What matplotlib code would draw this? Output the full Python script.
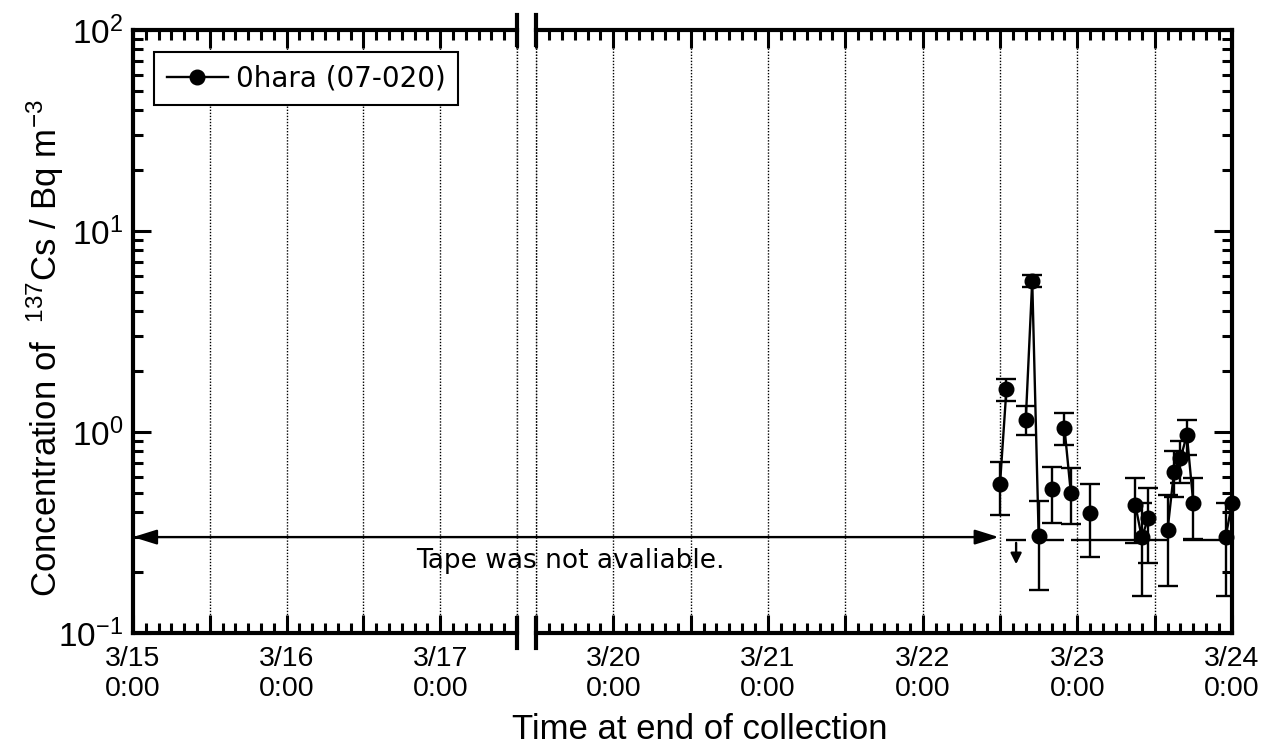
import numpy as np
import matplotlib.pyplot as plt
import matplotlib.dates as mdates
from matplotlib.lines import Line2D
from matplotlib.patches import ConnectionPatch, ArrowStyle
from matplotlib.ticker import FuncFormatter, NullFormatter, LogLocator

plt.rcParams['font.family'] = ['Liberation Sans', 'DejaVu Sans']
plt.rcParams['mathtext.default'] = 'regular'

# hourly samples, hours after 2011-03-22 0:00
sample_hours = [12, 13, 16, 17, 18, 20, 22, 23, 26, 33, 34, 35, 38, 39, 40, 41, 42, 47, 48]
cs137 = [0.55, 1.64, 1.15, 5.66, 0.304, 0.519, 1.05, 0.495, 0.397, 0.433,
         0.299, 0.372, 0.325, 0.635, 0.739, 0.966, 0.442, 0.299, 0.442]
cs137_low = [0.386, 1.43, 0.97, 5.28, 0.164, 0.354, 0.86, 0.347, 0.24, 0.279,
             0.153, 0.224, 0.171, 0.477, 0.556, 0.77, 0.292, 0.153, np.nan]
cs137_high = [0.71, 1.84, 1.35, 6.04, 0.455, 0.672, 1.25, 0.66, 0.551, 0.589,
              0.442, 0.528, 0.486, 0.805, 0.90, 1.15, 0.589, 0.442, np.nan]

# periods below detection limit (hours after 3/22 0:00)
dl_start = [13.0, 18.5, 23.0, 40.4]
dl_end = [16.0, 22.0, 38.0, 47.0]
dl_level = 0.29
dl_arrow_hour = 14.5
dl_arrow_tip = 0.213

tape_level = 0.30
station = '0hara (07-020)'

base = mdates.date2num(np.datetime64('2011-03-22T00:00'))
def at(h):
    return base + np.asarray(h, dtype=float) / 24.0

def day(s):
    return mdates.date2num(np.datetime64(s))

times = at(sample_hours)
conc = np.array(cs137)
lo = np.array(cs137_low)
hi = np.array(cs137_high)

# connect only consecutive hours
full_hours = np.arange(sample_hours[0], sample_hours[-1] + 1)
full_vals = np.full(full_hours.shape, np.nan)
full_vals[np.searchsorted(full_hours, sample_hours)] = conc

fig = plt.figure(figsize=(12.75, 7.47), dpi=100)
W, H = 1275, 747
bot, top = 633, 30
ax_l = fig.add_axes([133 / W, 1 - bot / H, (517 - 133) / W, (bot - top) / H])
ax_r = fig.add_axes([536 / W, 1 - bot / H, (1232 - 536) / W, (bot - top) / H], sharey=ax_l)

left_span = (day('2011-03-15T00:00'), day('2011-03-17T12:00'))
right_span = (day('2011-03-19T12:00'), day('2011-03-24T00:00'))
ax_l.set_xlim(*left_span)
ax_r.set_xlim(*right_span)
ax_l.set_yscale('log')
ax_l.set_ylim(0.1, 100)


def day_label(v, pos):
    d = mdates.num2date(v)
    return f'{d.month}/{d.day}\n0:00' if d.hour == 0 else ''


grid_style = dict(linestyle=(0, (1, 1.2)), color='black', linewidth=1.0)
for ax in (ax_l, ax_r):
    ax.xaxis.set_major_locator(mdates.HourLocator(byhour=[0, 12]))
    ax.xaxis.set_minor_locator(mdates.HourLocator(byhour=range(0, 24, 2)))
    ax.xaxis.set_major_formatter(FuncFormatter(day_label))
    ax.yaxis.set_major_locator(LogLocator(base=10))
    ax.yaxis.set_minor_locator(LogLocator(base=10, subs=range(2, 10)))
    ax.yaxis.set_major_formatter(FuncFormatter(lambda v, p: f'$10^{{{int(round(np.log10(v)))}}}$'))
    ax.yaxis.set_minor_formatter(NullFormatter())
    ax.tick_params(which='both', direction='in', top=True, width=2.2, pad=9)
    ax.tick_params(axis='x', labelsize=20.5)
    ax.tick_params(axis='y', labelsize=24, pad=7)
    ax.tick_params(which='major', length=13)
    ax.tick_params(which='minor', length=7)
    ax.grid(axis='x', which='major', **grid_style)
    for sp in ax.spines.values():
        sp.set_linewidth(3)

# dotted lines on the inner edges of the break
ax_l.axvline(left_span[1], clip_on=False, **grid_style)
ax_r.axvline(right_span[0], clip_on=False, **grid_style)

ax_l.spines['right'].set_visible(False)
ax_r.spines['left'].set_visible(False)
ax_l.tick_params(axis='y', which='both', left=True, right=False)
ax_r.tick_params(axis='y', which='both', left=False, right=True, labelleft=False)

# break marks
d = 0.025
for ax, x in ((ax_l, 1), (ax_r, 0)):
    for y in (0, 1):
        ax.add_line(Line2D([x, x], [y - d, y + d], transform=ax.transAxes,
                           color='black', lw=3, clip_on=False))

# data
lw = 1.7
ax_r.hlines([dl_level] * len(dl_start), at(dl_start), at(dl_end), color='black', lw=lw)
ax_r.annotate('', xy=(at(dl_arrow_hour), dl_arrow_tip), xytext=(at(dl_arrow_hour), dl_level),
              arrowprops=dict(arrowstyle='-|>', color='black', lw=lw, mutation_scale=16))
ax_r.errorbar(times, conc, yerr=[conc - lo, hi - conc], fmt='none', ecolor='black',
              elinewidth=lw, capsize=7, capthick=lw)
ax_r.plot(at(full_hours), full_vals, '-', color='black', lw=lw)
ax_r.plot(times, conc, 'o', color='black', ms=10.5, clip_on=False, zorder=5)

# tape note arrow across the break
con = ConnectionPatch(xyA=(left_span[0], tape_level), coordsA=ax_l.transData,
                      xyB=(at(11.8), tape_level), coordsB=ax_r.transData,
                      arrowstyle=ArrowStyle('<|-|>', head_length=0.8, head_width=0.25),
                      mutation_scale=18, color='black', lw=lw)
fig.add_artist(con)
fig.text(570 / W, 1 - 568 / H, 'Tape was not avaliable.', ha='center', va='baseline',
         family='DejaVu Sans', size=19)

handle = Line2D([], [], color='black', marker='o', ms=10.5, lw=lw)
leg = ax_l.legend([handle], [station], loc='upper left', bbox_to_anchor=(0.0547, 0.9635),
                  borderaxespad=0, fancybox=False, edgecolor='black', framealpha=1,
                  prop=dict(family='DejaVu Sans', size=20), handlelength=2.2,
                  handletextpad=0.3, borderpad=0.45)
leg.get_frame().set_linewidth(1.5)

fig.text(45 / W, 1 - 348 / H, 'Concentration of  $^{137}$Cs / Bq m$^{-3}$',
         rotation=90, ha='center', va='center', size=25)
fig.text(700 / W, 1 - 739 / H, 'Time at end of collection', ha='center', va='baseline', size=25)

fig.savefig('out.png', dpi=100)
